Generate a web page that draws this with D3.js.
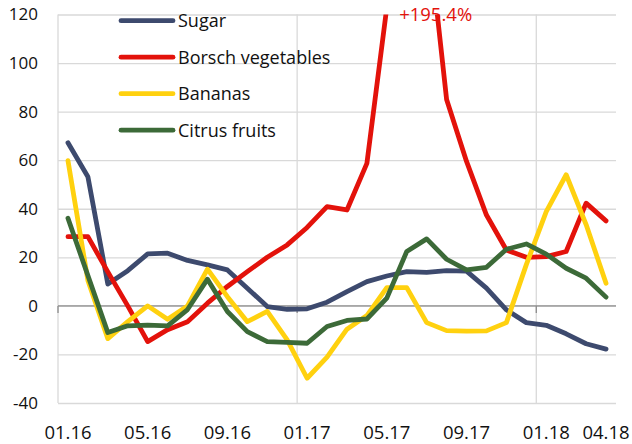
<!DOCTYPE html>
<html>
<head>
<meta charset="utf-8">
<script src="https://cdn.jsdelivr.net/npm/d3@7"></script>
<style>
  html, body { margin: 0; padding: 0; background: #fff; }
  svg { display: block; }
  text { font-family: "Open Sans", "Liberation Sans", sans-serif; fill: #111; }
</style>
</head>
<body>
<svg id="chart" width="632" height="444"></svg>
<script>
// ---- data ----
const months = ["01.16","02.16","03.16","04.16","05.16","06.16","07.16","08.16","09.16","10.16","11.16","12.16",
                "01.17","02.17","03.17","04.17","05.17","06.17","07.17","08.17","09.17","10.17","11.17","12.17",
                "01.18","02.18","03.18","04.18"];
const tickLabels = ["01.16","05.16","09.16","01.17","05.17","09.17","01.18","04.18"];
const yTicks = [-40, -20, 0, 20, 40, 60, 80, 100, 120];
const seriesNames = ["Sugar", "Borsch vegetables", "Bananas", "Citrus fruits"];
const sugar   = [67.2, 53.2, 9.0, 14.5, 21.4, 21.7, 18.7, 16.9, 14.8, 7.3, -0.3, -1.4, -1.2, 1.5, 5.9, 10.0, 12.3, 14.1, 13.8, 14.5, 14.3, 7.3, -1.6, -6.9, -8.0, -11.5, -15.6, -17.8];
const borsch  = [28.5, 28.5, 14.0, 0.0, -14.7, -9.8, -6.5, 1.1, 8.0, 14.1, 20.0, 25.1, 32.3, 40.9, 39.5, 58.7, 123.0, 195.4, 160.0, 85.0, 59.5, 37.4, 23.0, 20.0, 20.3, 22.4, 42.3, 35.0];
const bananas = [59.8, 10.5, -13.5, -6.5, 0.0, -5.5, 0.0, 15.1, 3.8, -6.5, -2.3, -14.0, -29.8, -21.1, -9.6, -4.0, 7.5, 7.5, -6.9, -10.2, -10.4, -10.3, -6.9, 17.0, 38.8, 54.0, 33.5, 9.3];
const citrus  = [36.1, 12.5, -11.0, -8.2, -7.9, -8.2, -1.5, 11.0, -2.3, -10.6, -14.7, -15.0, -15.4, -8.5, -6.0, -5.4, 3.2, 22.4, 27.6, 19.2, 14.8, 15.9, 23.3, 25.5, 21.3, 15.5, 11.4, 3.6];
const peakLabel = "+195.4%";

// ---- layout ----
const colors = ["#3d4a6e", "#e3120b", "#ffd10f", "#3c6a38"];
const seriesValues = [sugar, borsch, bananas, citrus];
const svg = d3.select("#chart");
const W = 632, H = 444;
const plot = { left: 58, right: 616, top: 14.5, bottom: 403 };

const x = d3.scaleBand().domain(months).range([plot.left, plot.right]).paddingInner(0).paddingOuter(0);
const xc = m => x(m) + x.bandwidth() / 2;
const y = d3.scaleLinear().domain([-40, 120]).range([plot.bottom, plot.top]);

svg.append("rect").attr("width", W).attr("height", H).attr("fill", "#fff");

// horizontal gridlines
const gy = svg.append("g")
  .attr("transform", `translate(${plot.left},0)`)
  .call(d3.axisLeft(y).tickValues(yTicks).tickSize(-(plot.right - plot.left)).tickFormat(""));
gy.select(".domain").remove();
gy.selectAll(".tick line").attr("stroke", "#d9d9d9").attr("stroke-width", 1.3);

// vertical gridlines at year boundaries
const yearStarts = months.filter((m, i) => i % 12 === 0);
svg.append("g").selectAll("line").data(yearStarts).join("line")
  .attr("x1", d => x(d)).attr("x2", d => x(d))
  .attr("y1", plot.top).attr("y2", plot.bottom)
  .attr("stroke", "#d9d9d9").attr("stroke-width", 1.3);

// y tick labels
svg.append("g").selectAll("text").data(yTicks).join("text")
  .attr("x", 38).attr("y", d => y(d)).attr("dy", "0.35em")
  .attr("text-anchor", "end").attr("font-size", 17).text(d => d);

// zero axis with category tick marks
const gx = svg.append("g")
  .attr("transform", `translate(0,${y(0)})`)
  .call(d3.axisBottom(x).tickValues([]).tickSize(0));
gx.select(".domain").attr("stroke", "#8c8c8c").attr("stroke-width", 1.3).attr("d", `M${plot.left},0H${plot.right}`);
gx.selectAll(".yt").data(yearStarts).join("line").attr("class", "yt")
  .attr("x1", d => x(d)).attr("x2", d => x(d)).attr("y1", 0).attr("y2", 7)
  .attr("stroke", "#8c8c8c").attr("stroke-width", 1.3);

// x labels
svg.append("g").selectAll("text").data(tickLabels).join("text")
  .attr("x", d => xc(d)).attr("y", 438.5)
  .attr("text-anchor", "middle").attr("font-size", 18.5).text(d => d);

// clip
svg.append("clipPath").attr("id", "clip").append("rect")
  .attr("x", plot.left).attr("y", plot.top)
  .attr("width", plot.right - plot.left).attr("height", plot.bottom - plot.top);

const line = d3.line().x((d, i) => xc(months[i])).y(d => y(d));
svg.append("g").attr("clip-path", "url(#clip)")
  .selectAll("path").data(seriesValues).join("path")
  .attr("d", d => line(d))
  .attr("fill", "none")
  .attr("stroke", (d, i) => colors[i])
  .attr("stroke-width", 4.8)
  .attr("stroke-linejoin", "round")
  .attr("stroke-linecap", "round");

// peak label
svg.append("text")
  .attr("x", (xc(months[17]) + xc(months[19])) / 2 + 9)
  .attr("y", y(120) + 6)
  .attr("text-anchor", "middle").attr("font-size", 18.5)
  .style("fill", colors[1]).text(peakLabel);

// legend
const lg = svg.append("g").selectAll("g").data(seriesNames).join("g")
  .attr("transform", (d, i) => `translate(0,${20.7 + i * 36.5})`);
lg.append("line").attr("x1", 121).attr("x2", 173).attr("y1", 0).attr("y2", 0)
  .attr("stroke", (d, i) => colors[i]).attr("stroke-width", 4.8).attr("stroke-linecap", "round");
lg.append("text").attr("x", 178).attr("y", 0).attr("dy", "0.36em")
  .attr("font-size", 18).text(d => d);
</script>
</body>
</html>
